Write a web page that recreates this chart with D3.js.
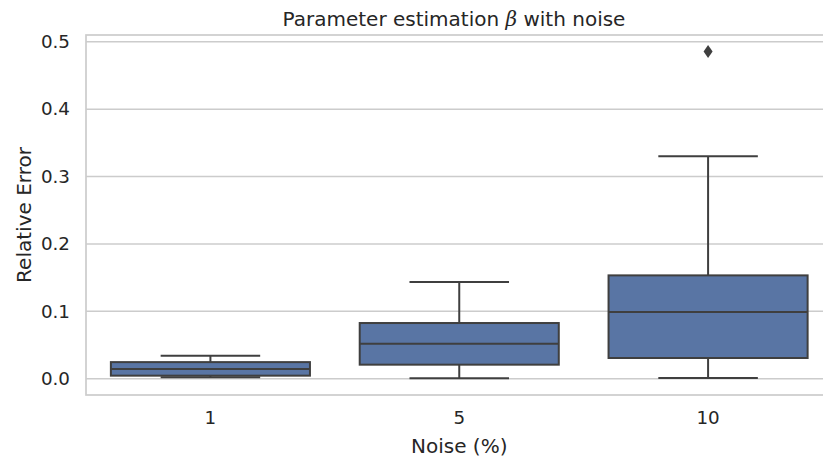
<!DOCTYPE html>
<html>
<head>
<meta charset="utf-8">
<script src="https://cdn.jsdelivr.net/npm/d3@7"></script>
<style>
  html, body { margin: 0; padding: 0; background: #ffffff; }
  svg { display: block; font-family: "DejaVu Sans", sans-serif; }
</style>
</head>
<body>
<svg id="chart" width="823" height="457"></svg>
<script>
// Noise levels (x categories) and box-plot summary per level
const noiseLevels = ["1", "5", "10"];
const whiskerLow  = [0.002, 0.0005, 0.001];
const q1          = [0.0045, 0.0208, 0.0307];
const medians     = [0.0144, 0.0519, 0.099];
const q3          = [0.0246, 0.0826, 0.1533];
const whiskerHigh = [0.034, 0.1435, 0.330];
const outliers    = [[], [], [0.4856]];
const yTicks      = [0.0, 0.1, 0.2, 0.3, 0.4, 0.5];

const svg = d3.select("#chart");
const plot = { left: 86, right: 832.5, top: 35, bottom: 395 };

const textColor = "#262626";
const gridColor = "#cccccc";
const lineColor = "#3f3f3f";
const boxFill   = "#5975a4";
const tickFont  = "18.3px";
const labelFont = "20px";

const x = d3.scaleBand().domain(noiseLevels).range([plot.left, plot.right]).padding(0);
const y = d3.scaleLinear().domain([-0.0242, 0.51]).range([plot.bottom, plot.top]);

// Horizontal grid lines
svg.append("g")
  .selectAll("line")
  .data(yTicks)
  .join("line")
  .attr("x1", plot.left).attr("x2", plot.right)
  .attr("y1", d => y(d)).attr("y2", d => y(d))
  .attr("stroke", gridColor).attr("stroke-width", 1.5);

// Frame (spines)
svg.append("rect")
  .attr("x", plot.left).attr("y", plot.top)
  .attr("width", plot.right - plot.left).attr("height", plot.bottom - plot.top)
  .attr("fill", "none").attr("stroke", gridColor).attr("stroke-width", 1.7);

// Y axis tick labels
const yAxis = d3.axisLeft(y).tickValues(yTicks).tickFormat(d3.format(".1f")).tickSize(0).tickPadding(16);
const gy = svg.append("g").attr("transform", `translate(${plot.left},0)`).call(yAxis);
gy.select(".domain").remove();
gy.selectAll("text").attr("fill", textColor).style("font-size", tickFont).style("font-family", "DejaVu Sans");

// X axis tick labels
const xAxis = d3.axisBottom(x).tickSize(0).tickPadding(16.5);
const gx = svg.append("g").attr("transform", `translate(0,${plot.bottom})`).call(xAxis);
gx.select(".domain").remove();
gx.selectAll("text").attr("fill", textColor).style("font-size", tickFont).style("font-family", "DejaVu Sans");

// Box plots
const boxW = x.bandwidth() * 0.8;
const capW = boxW / 2;
const boxes = svg.append("g");
noiseLevels.forEach((lvl, i) => {
  const cx = x(lvl) + x.bandwidth() / 2;
  const g = boxes.append("g");
  // whiskers
  g.append("line").attr("x1", cx).attr("x2", cx)
    .attr("y1", y(q3[i])).attr("y2", y(whiskerHigh[i]))
    .attr("stroke", lineColor).attr("stroke-width", 2);
  g.append("line").attr("x1", cx).attr("x2", cx)
    .attr("y1", y(q1[i])).attr("y2", y(whiskerLow[i]))
    .attr("stroke", lineColor).attr("stroke-width", 2);
  // caps
  [whiskerHigh[i], whiskerLow[i]].forEach(v => {
    g.append("line").attr("x1", cx - capW / 2).attr("x2", cx + capW / 2)
      .attr("y1", y(v)).attr("y2", y(v))
      .attr("stroke", lineColor).attr("stroke-width", 2);
  });
  // box
  g.append("rect")
    .attr("x", cx - boxW / 2).attr("width", boxW)
    .attr("y", y(q3[i])).attr("height", y(q1[i]) - y(q3[i]))
    .attr("fill", boxFill).attr("stroke", lineColor).attr("stroke-width", 2);
  // median
  g.append("line").attr("x1", cx - boxW / 2).attr("x2", cx + boxW / 2)
    .attr("y1", y(medians[i])).attr("y2", y(medians[i]))
    .attr("stroke", lineColor).attr("stroke-width", 2);
  // outliers (thin diamonds)
  outliers[i].forEach(v => {
    const py = y(v);
    g.append("path")
      .attr("d", `M${cx},${py - 6.5} L${cx + 4.5},${py} L${cx},${py + 6.5} L${cx - 4.5},${py} Z`)
      .attr("fill", lineColor);
  });
});

// Title and axis labels
svg.append("text")
  .attr("x", 454).attr("y", 26)
  .attr("text-anchor", "middle").attr("fill", textColor)
  .style("font-size", labelFont)
  .html('Parameter estimation <tspan font-family="DejaVu Serif" font-style="italic">β</tspan> with noise');

svg.append("text")
  .attr("x", (plot.left + plot.right) / 2).attr("y", 453)
  .attr("text-anchor", "middle").attr("fill", textColor)
  .style("font-size", labelFont)
  .text("Noise (%)");

svg.append("text")
  .attr("transform", `translate(31,${(plot.top + plot.bottom) / 2}) rotate(-90)`)
  .attr("text-anchor", "middle").attr("fill", textColor)
  .style("font-size", labelFont)
  .text("Relative Error");
</script>
</body>
</html>
